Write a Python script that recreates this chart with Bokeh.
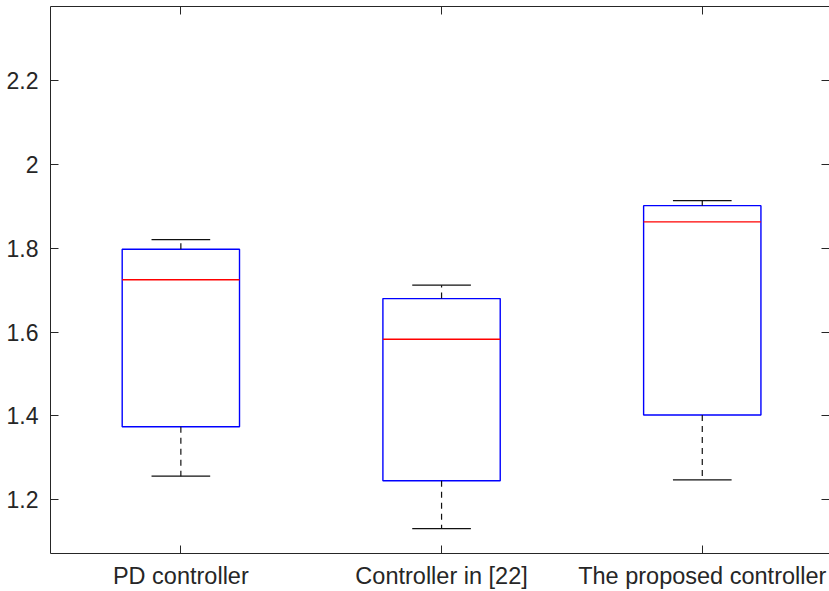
import numpy as np
from bokeh.plotting import figure
from bokeh.models import Range1d, FixedTicker, LinearAxis
from bokeh.embed import file_html
from bokeh.resources import INLINE

categories = ["PD controller", "Controller in [22]", "The proposed controller"]
upper_whisker = [1.821, 1.712, 1.914]
q3 = [1.798, 1.680, 1.902]
median = [1.725, 1.583, 1.863]
q1 = [1.374, 1.245, 1.402]
lower_whisker = [1.256, 1.131, 1.247]
y_ticks = [1.2, 1.4, 1.6, 1.8, 2.0, 2.2]
y_tick_labels = ["1.2", "1.4", "1.6", "1.8", "2", "2.2"]

x = np.arange(1, len(categories) + 1, dtype=float)
box_w = 0.45
cap_w = box_w / 2

FONT = "Liberation Sans"
AX = "#262626"

p = figure(width=829, height=591, output_backend="svg", toolbar_location=None,
           x_range=Range1d(0.5, 3.488), y_range=Range1d(1.0714, 2.3775),
           min_border_left=50, min_border_right=0, min_border_top=6, min_border_bottom=36)
p.outline_line_color = None
p.xgrid.visible = False
p.ygrid.visible = False

# boxes
p.vbar(x=x, width=box_w, bottom=q1, top=q3, fill_color=None,
       line_color="#0000ff", line_width=1.4)
# medians
p.segment(x0=x - box_w / 2, x1=x + box_w / 2, y0=median, y1=median,
          line_color="#ff0000", line_width=1.3)
# whiskers
p.segment(x0=x, x1=x, y0=q3, y1=upper_whisker, line_color="#111111",
          line_width=1.2, line_dash="6 5")
p.segment(x0=x, x1=x, y0=q1, y1=lower_whisker, line_color="#111111",
          line_width=1.2, line_dash="6 5")
# caps
p.segment(x0=x - cap_w / 2, x1=x + cap_w / 2, y0=upper_whisker, y1=upper_whisker,
          line_color="#111111", line_width=1.2)
p.segment(x0=x - cap_w / 2, x1=x + cap_w / 2, y0=lower_whisker, y1=lower_whisker,
          line_color="#111111", line_width=1.2)

def style(ax, size=None):
    ax.axis_line_color = AX
    ax.axis_line_width = 1
    ax.major_tick_line_color = AX
    ax.major_tick_in = 8
    ax.major_tick_out = 0
    ax.minor_tick_line_color = None
    ax.major_label_text_font = FONT
    ax.major_label_text_color = AX
    if size:
        ax.major_label_text_font_size = size

xa = p.xaxis[0]
xa.ticker = FixedTicker(ticks=list(x))
xa.major_label_overrides = {float(v): c for v, c in zip(x, categories)}
style(xa, "23.5px")
xa.major_label_standoff = 9

ya = p.yaxis[0]
ya.ticker = FixedTicker(ticks=y_ticks)
ya.major_label_overrides = {t: l for t, l in zip(y_ticks, y_tick_labels)}
style(ya, "23px")
ya.major_label_standoff = 12

top_ax = LinearAxis(ticker=FixedTicker(ticks=list(x)))
style(top_ax)
top_ax.major_label_overrides = {float(v): "" for v in x}
top_ax.major_label_standoff = 0
p.add_layout(top_ax, "above")

right_ax = LinearAxis(ticker=FixedTicker(ticks=y_ticks))
style(right_ax)
right_ax.major_label_overrides = {t: "" for t in y_ticks}
right_ax.major_label_standoff = 0
right_ax.axis_line_color = None
p.add_layout(right_ax, "right")

open("out.html", "w").write(file_html(p, INLINE))
